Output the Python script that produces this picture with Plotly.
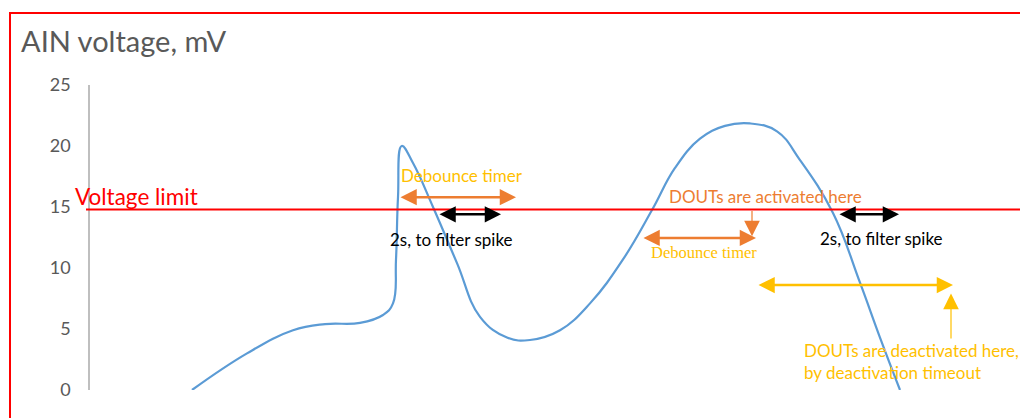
import plotly.graph_objects as go

# ---- data (time in arbitrary units, voltage in mV) ----
time_s = [10.2, 15.7, 20.3, 23.5, 27.0, 29.3, 30.3, 30.6, 30.8, 31.17, 32.3, 34.3, 36.7,
          39.0, 41.7, 44.0, 47.0, 50.0, 53.3, 56.2, 58.5, 61.0, 63.5, 66.0, 68.7, 71.0,
          74.3, 77.0, 79.0, 81.0]
voltage_mv = [0.0, 3.0, 4.9, 5.4, 5.5, 6.15, 7.1, 10.7, 15.8, 20.0, 18.6, 15.0, 10.4,
              6.0, 4.3, 4.1, 4.9, 7.1, 10.7, 14.75, 18.2, 20.6, 21.65, 21.85, 21.2, 18.85,
              14.5, 8.8, 4.3, 0.0]
y_ticks = [0, 5, 10, 15, 20, 25]
voltage_limit = 14.8

# ---- layout geometry (pixels; page body has an 8px margin) ----
OFF = 8
W, H = 1028 - OFF, 418 - OFF
L, R, T, B = 90 - OFF, 0, 85 - OFF, 28
PW, PH = W - L - R, H - T - B
X_RANGE = [0, 93.8]
Y_RANGE = [0, 25]

def px_x(p):  # window pixel -> paper x
    return (p - OFF - L) / PW

def px_y(p):  # window pixel -> paper y
    return (H - B - (p - OFF)) / PH

ORANGE = "#ED7D31"
GOLD = "#FFC000"
RED = "#FF0000"
BLUE = "#5B9BD5"
GREY = "#595959"
FONT = "Lato"

fig = go.Figure()
fig.add_trace(go.Scatter(x=time_s, y=voltage_mv, mode="lines",
                         line=dict(color=BLUE, width=2.2, shape="spline", smoothing=1.2),
                         hoverinfo="skip", showlegend=False))

shapes = [
    # red frame
    dict(type="line", xref="paper", yref="paper", x0=px_x(9), x1=px_x(1030), y0=px_y(13), y1=px_y(13),
         line=dict(color=RED, width=2)),
    dict(type="line", xref="paper", yref="paper", x0=px_x(10), x1=px_x(10), y0=px_y(12), y1=px_y(420),
         line=dict(color=RED, width=2)),
    # voltage limit
    dict(type="line", xref="paper", yref="paper", x0=px_x(86), x1=px_x(1030),
         y0=voltage_limit / Y_RANGE[1], y1=voltage_limit / Y_RANGE[1],
         line=dict(color=RED, width=2)),
]

ann = []

def dbl_arrow(x0, x1, y, color, width=2.5):
    ann.append(dict(x=x1, y=y, ax=x0, ay=y, xref="x", yref="y", axref="x", ayref="y",
                    text="", showarrow=True, arrowhead=2, arrowsize=1.3, arrowwidth=width,
                    arrowside="end+start", arrowcolor=color))

def single_arrow(x, y_from, y_to, color, width=1.2, size=2.6):
    ann.append(dict(x=x, y=y_to, ax=x, ay=y_from, xref="x", yref="y", axref="x", ayref="y",
                    text="", showarrow=True, arrowhead=2, arrowsize=size, arrowwidth=width,
                    arrowside="end", arrowcolor=color))

def label(x, y, text, color, size=17, family=FONT, xanchor="center", align="center"):
    ann.append(dict(x=x, y=y, xref="x", yref="y", text=text, showarrow=False,
                    font=dict(family=family, size=size, color=color),
                    xanchor=xanchor, yanchor="middle", align=align))

# arrows
dbl_arrow(30.9, 42.6, 15.8, ORANGE)
dbl_arrow(34.8, 41.1, 14.4, "#000000")
dbl_arrow(55.2, 66.6, 12.46, ORANGE)
dbl_arrow(74.8, 80.9, 14.4, "#000000")
dbl_arrow(66.7, 86.3, 8.6, GOLD)
single_arrow(66.2, voltage_limit, 12.6, ORANGE)
single_arrow(86.1, 4.1, 7.9, GOLD)

# labels
label(37.2, 17.6, "Debounce timer", GOLD)
label(36.1, 12.3, "2s, to filter spike", "#000000")
label(67.5, 15.85, "DOUTs are activated here", ORANGE)
label(61.4, 11.3, "Debounce timer", GOLD, size=16.5, family="Liberation Serif")
label(79.1, 12.45, "2s, to filter spike", "#000000")
label(71.2, 2.35, "DOUTs are deactivated here,<br>by deactivation timeout", GOLD,
      xanchor="left", align="left")

# paper-positioned texts
ann.append(dict(x=px_x(73), y=px_y(196), xref="paper", yref="paper", text="Voltage limit",
                showarrow=False, xanchor="left", yanchor="middle",
                font=dict(family=FONT, size=22.5, color=RED)))
ann.append(dict(x=px_x(19), y=px_y(40), xref="paper", yref="paper", text="AIN voltage, mV",
                showarrow=False, xanchor="left", yanchor="middle",
                font=dict(family=FONT, size=29, color=GREY)))

fig.update_layout(
    width=W, height=H,
    margin=dict(l=L, r=R, t=T, b=B, pad=0),
    paper_bgcolor="white", plot_bgcolor="white",
    shapes=shapes, annotations=ann, showlegend=False,
    xaxis=dict(range=X_RANGE, visible=False, fixedrange=True),
    yaxis=dict(range=Y_RANGE, tickvals=y_ticks, showgrid=False, zeroline=False,
               showline=True, linecolor="#BFBFBF", linewidth=1.5, ticks="",
               ticklabelstandoff=14,
               tickfont=dict(family=FONT, size=18, color=GREY), fixedrange=True),
)

fig.write_html("out.html", config={"displayModeBar": False})
